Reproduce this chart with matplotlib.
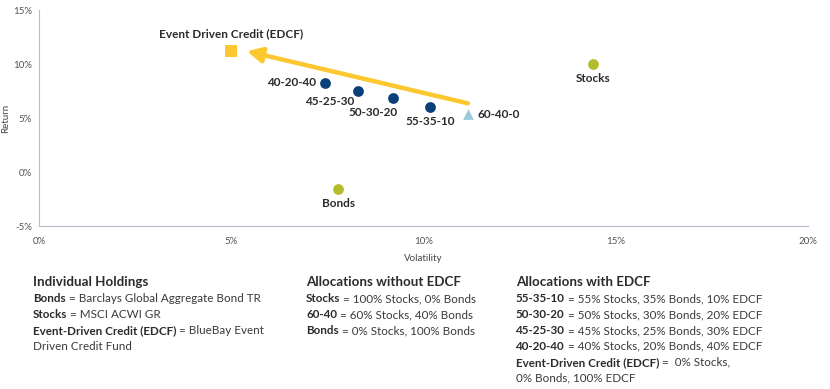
import matplotlib.pyplot as plt
from matplotlib.ticker import FuncFormatter

plt.rcParams['font.family'] = ['Lato', 'DejaVu Sans']

# return / volatility points (%)
names = ['40-20-40', '45-25-30', '50-30-20', '55-35-10']
mix_vol = [7.43, 8.28, 9.2, 10.16]
mix_ret = [8.27, 7.53, 6.82, 6.05]

base_name = '60-40-0'
base_vol = 11.15
base_ret = 5.34

edcf_name = 'Event Driven Credit (EDCF)'
edcf_vol = 5.0
edcf_ret = 11.2

single_names = ['Stocks', 'Bonds']
single_vol = [14.4, 7.78]
single_ret = [10.0, -1.55]

navy = '#0b3f7a'
olive = '#b3bc2a'
sky = '#9dcad8'
gold = '#fdc82f'
txt = '#2b2b2b'

fig = plt.figure(figsize=(8.3, 3.89), dpi=100)
ax = fig.add_axes([0.047, 0.419, 0.927, 0.555])

# arrow from 60-40 towards EDCF
ax.annotate('', xy=(5.4, 11.2), xytext=(11.15, 6.36),
            arrowprops=dict(arrowstyle='-|>,head_length=0.9,head_width=0.45', color=gold, lw=3.2,
                            shrinkA=0, shrinkB=0))

ax.scatter(mix_vol, mix_ret, s=60, color=navy, zorder=3, linewidths=0)
ax.scatter([base_vol], [base_ret], s=60, marker='^', color=sky, zorder=3, linewidths=0)
ax.scatter([edcf_vol], [edcf_ret], s=65, marker='s', color=gold, zorder=3, linewidths=0)
ax.scatter(single_vol, single_ret, s=60, color=olive, zorder=3, linewidths=0)

lab = dict(textcoords='offset pixels', fontsize=8.5, fontweight='bold', color=txt)
offsets = [(-9, 0, 'right', 'center'), (-28, -11, 'center', 'center'),
           (-20, -14, 'center', 'center'), (0, -15, 'center', 'center')]
for n, x, y, (dx, dy, ha, va) in zip(names, mix_vol, mix_ret, offsets):
    ax.annotate(n, (x, y), xytext=(dx, dy), ha=ha, va=va, **lab)
ax.annotate(base_name, (base_vol, base_ret), xytext=(10, 0), ha='left', va='center', **lab)
ax.annotate(edcf_name, (edcf_vol, edcf_ret), xytext=(0, 17), ha='center', va='center', **lab)
ax.annotate(single_names[0], (single_vol[0], single_ret[0]), xytext=(0, -14), ha='center', va='center', **lab)
ax.annotate(single_names[1], (single_vol[1], single_ret[1]), xytext=(0, -15), ha='center', va='center', **lab)

ax.set_xlim(0, 20)
ax.set_ylim(-5, 15)
ax.set_xticks([0, 5, 10, 15, 20])
ax.set_yticks([-5, 0, 5, 10, 15])
pct = FuncFormatter(lambda v, p: f'{v:.0f}%')
ax.xaxis.set_major_formatter(pct)
ax.yaxis.set_major_formatter(pct)
ax.tick_params(length=0, labelsize=7, colors='#555555')
ax.tick_params(axis='x', pad=8)
ax.tick_params(axis='y', pad=5)
for s in ['top', 'right']:
    ax.spines[s].set_visible(False)
for s in ['left', 'bottom']:
    ax.spines[s].set_color('#b8b8d0')
    ax.spines[s].set_linewidth(0.8)
ax.set_xlabel('Volatility', fontsize=7, color='#444444', labelpad=6)
ax.set_ylabel('Return', fontsize=7, color='#444444', labelpad=2)

# footer key
cols = [
    (33 / 830, 'Individual Holdings', [
        ('Bonds', ' = Barclays Global Aggregate Bond TR'),
        ('Stocks', ' = MSCI ACWI GR'),
        ('Event-Driven Credit (EDCF)', ' = BlueBay Event'),
        ('', 'Driven Credit Fund'),
    ]),
    (306 / 830, 'Allocations without EDCF', [
        ('Stocks', ' = 100% Stocks, 0% Bonds'),
        ('60-40', ' = 60% Stocks, 40% Bonds'),
        ('Bonds', ' = 0% Stocks, 100% Bonds'),
    ]),
    (516 / 830, 'Allocations with EDCF', [
        ('55-35-10', ' = 55% Stocks, 35% Bonds, 10% EDCF'),
        ('50-30-20', ' = 50% Stocks, 30% Bonds, 20% EDCF'),
        ('45-25-30', ' = 45% Stocks, 25% Bonds, 30% EDCF'),
        ('40-20-40', ' = 40% Stocks, 20% Bonds, 40% EDCF'),
        ('Event-Driven Credit (EDCF)', ' =  0% Stocks,'),
        ('', '0% Bonds, 100% EDCF'),
    ]),
]
r = fig.canvas.get_renderer()
for x0, head, rows in cols:
    fig.text(x0, 1 - 282 / 389, head, fontsize=9.6, fontweight='bold', color=txt, va='center')
    for i, (b, rest) in enumerate(rows):
        y = 1 - (299 + i * 15.8) / 389
        x = x0
        if b:
            t = fig.text(x, y, b, fontsize=8.4, fontweight='bold', color=txt, va='center')
            w = t.get_window_extent(renderer=r).width / 830
            x = x0 + w
        fig.text(x, y, rest, fontsize=8.4, color='#3a3a3a', va='center')

fig.savefig('out.png', dpi=100)
